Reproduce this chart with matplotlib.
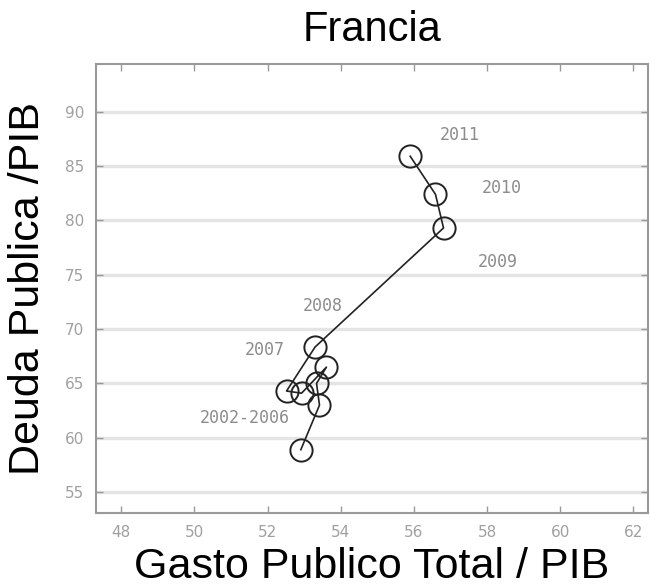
import matplotlib
matplotlib.use('Agg')
import matplotlib.pyplot as plt

# data: 2002 .. 2011
years = [2002, 2003, 2004, 2005, 2006, 2007, 2008, 2009, 2010, 2011]
gasto = [52.91, 53.42, 53.34, 53.61, 52.93, 52.52, 53.30, 56.81, 56.59, 55.90]
deuda = [58.9, 63.0, 65.0, 66.5, 64.1, 64.3, 68.35, 79.3, 82.4, 85.9]

labels = ['2011', '2010', '2009', '2008', '2007', '2002-2006']
label_x = [57.25, 58.4, 58.29, 53.52, 51.93, 51.38]
label_y = [87.86, 82.99, 76.2, 72.1, 68.1, 61.85]

xticks = [48, 50, 52, 54, 56, 58, 60, 62]
yticks = [55, 60, 65, 70, 75, 80, 85, 90]

fig = plt.figure(figsize=(6.5, 5.86), dpi=100)
ax = fig.add_axes([0.147, 0.125, 0.850, 0.766])

for yv in yticks:
    ax.axhline(yv, color='#e4e4e4', lw=2.4, zorder=0)

ax.plot(gasto, deuda, color='#222222', lw=1.2, marker='o', markersize=16,
        markerfacecolor='none', markeredgecolor='#222222', markeredgewidth=1.4)

for t, lx, ly in zip(labels, label_x, label_y):
    ax.text(lx, ly, t, color='#8c8c8c', fontsize=12, family='DejaVu Sans Mono',
            ha='center', va='center')

ax.set_xlim(47.3, 62.4)
ax.set_ylim(53.1, 94.4)
ax.set_xticks(xticks)
ax.set_yticks(yticks)
ax.tick_params(direction='in', top=True, right=True, length=5, width=1,
               color='#999999', labelcolor='#a0a0a0', labelsize=11)
ax.tick_params(axis='x', pad=9)
ax.tick_params(axis='y', pad=8)
for s in ax.spines.values():
    s.set_color('#999999')
    s.set_linewidth(1.5)

ax.text(0.5, 1.076, 'Francia', transform=ax.transAxes, fontsize=30,
        family='Liberation Sans', ha='center', va='center')
ax.set_xlabel('Gasto Publico Total / PIB', fontsize=31, family='Liberation Sans',
              va='center')
ax.xaxis.set_label_coords(0.5, -0.12)
ax.set_ylabel('Deuda Publica /PIB', fontsize=31, family='Liberation Sans',
              va='center')
ax.yaxis.set_label_coords(-0.123, 0.5)

fig.savefig('out.png', dpi=100)
